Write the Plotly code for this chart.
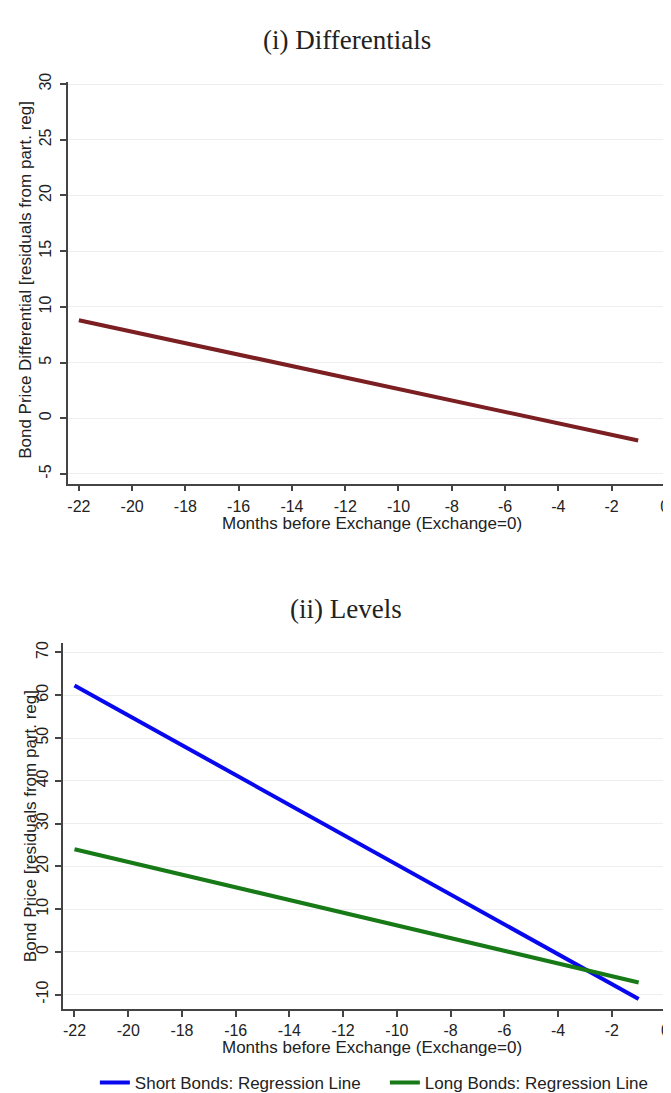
import plotly.graph_objects as go

# ---- data ----
months_diff = [-22, -1]
diff_values = [8.8, -2.0]

months_levels = [-22, -1]
short_bonds = [62.3, -11.0]
long_bonds = [24.0, -7.15]

x_ticks = [-22, -20, -18, -16, -14, -12, -10, -8, -6, -4, -2, 0]
x_tick_labels = ["-22", "-20", "-18", "-16", "-14", "-12", "-10", "-8", "-6", "-4", "-2", "0"]
y_ticks_top = [-5, 0, 5, 10, 15, 20, 25, 30]
y_tick_labels_top = ["-5", "0", "5", "10", "15", "20", "25", "30"]
y_ticks_bottom = [-10, 0, 10, 20, 30, 40, 50, 60, 70]
y_tick_labels_bottom = ["-10", "0", "10", "20", "30", "40", "50", "60", "70"]

W, H = 671, 1093
def px_x(p): return p / W
def px_y(p): return 1 - p / H

fig = go.Figure()
fig.add_trace(go.Scatter(x=months_diff, y=diff_values, mode="lines",
                         line=dict(color="#7b1f22", width=4), showlegend=False,
                         xaxis="x", yaxis="y"))
fig.add_trace(go.Scatter(x=months_levels, y=short_bonds, mode="lines",
                         name="Short Bonds: Regression Line",
                         line=dict(color="#0808ee", width=4),
                         xaxis="x2", yaxis="y2"))
fig.add_trace(go.Scatter(x=months_levels, y=long_bonds, mode="lines",
                         name="Long Bonds: Regression Line",
                         line=dict(color="#177a17", width=4),
                         xaxis="x2", yaxis="y2"))

tickfont = dict(family="Liberation Sans, Arial", size=16, color="#222")
axis_common = dict(showline=True, linecolor="#444", linewidth=1.5, ticks="outside",
                   ticklen=6, tickcolor="#444", tickwidth=1.5, tickfont=tickfont,
                   zeroline=False)

fig.update_layout(
    width=W, height=H,
    paper_bgcolor="white", plot_bgcolor="white",
    margin=dict(l=0, r=0, t=0, b=0),
    xaxis=dict(domain=[px_x(59.3), px_x(668)], range=[-22.40, 0.42], anchor="y",
               tickvals=x_ticks, ticktext=x_tick_labels, showgrid=False,
               ticklabelstandoff=1, **axis_common),
    yaxis=dict(domain=[px_y(475), px_y(65.7)], range=[-5.88, 30.23], anchor="x",
               tickvals=y_ticks_top, ticktext=y_tick_labels_top, tickangle=-90,
               showgrid=True, ticklabelstandoff=3,
               gridcolor="#eceef0", gridwidth=1, **axis_common),
    xaxis2=dict(domain=[px_x(54.3), px_x(668)], range=[-22.42, 0.39], anchor="y2",
                tickvals=x_ticks, ticktext=x_tick_labels, showgrid=False,
                ticklabelstandoff=0, **axis_common),
    yaxis2=dict(domain=[px_y(1010), px_y(636.7)], range=[-13.45, 72.3], anchor="x2",
                tickvals=y_ticks_bottom, ticktext=y_tick_labels_bottom, tickangle=-90,
                showgrid=True, ticklabelstandoff=1,
                gridcolor="#eceef0", gridwidth=1, **axis_common),
    legend=dict(orientation="h", x=px_x(86), xanchor="left", y=px_y(1085), yanchor="middle",
                font=dict(family="Liberation Sans, Arial", size=17, color="#222"),
                entrywidth=245, entrywidthmode="pixels",
                tracegroupgap=0, bgcolor="rgba(0,0,0,0)"),
)

serif = dict(family="Liberation Serif, Times New Roman", size=27, color="#222")
sans = dict(family="Liberation Sans, Arial", size=17, color="#222")
annots = [
    dict(text="(i) Differentials", x=px_x(338.3), y=px_y(23.3), font=serif),
    dict(text="(ii) Levels", x=px_x(337.5), y=px_y(602), font=serif),
    dict(text="Months before Exchange (Exchange=0)", x=px_x(363.8), y=px_y(515), font=sans),
    dict(text="Months before Exchange (Exchange=0)", x=px_x(363.8), y=px_y(1048.5), font=sans),
    dict(text="Bond Price Differential [residuals from part. reg]", x=px_x(17), y=px_y(267.5),
         font=sans, textangle=-90),
    dict(text="Bond Price [residuals from part. reg]", x=px_x(21), y=px_y(823.5),
         font=sans, textangle=-90),
]
for a in annots:
    fig.add_annotation(xref="paper", yref="paper", showarrow=False,
                       xanchor="center", yanchor="middle", **a)

fig.write_html("out.html")
